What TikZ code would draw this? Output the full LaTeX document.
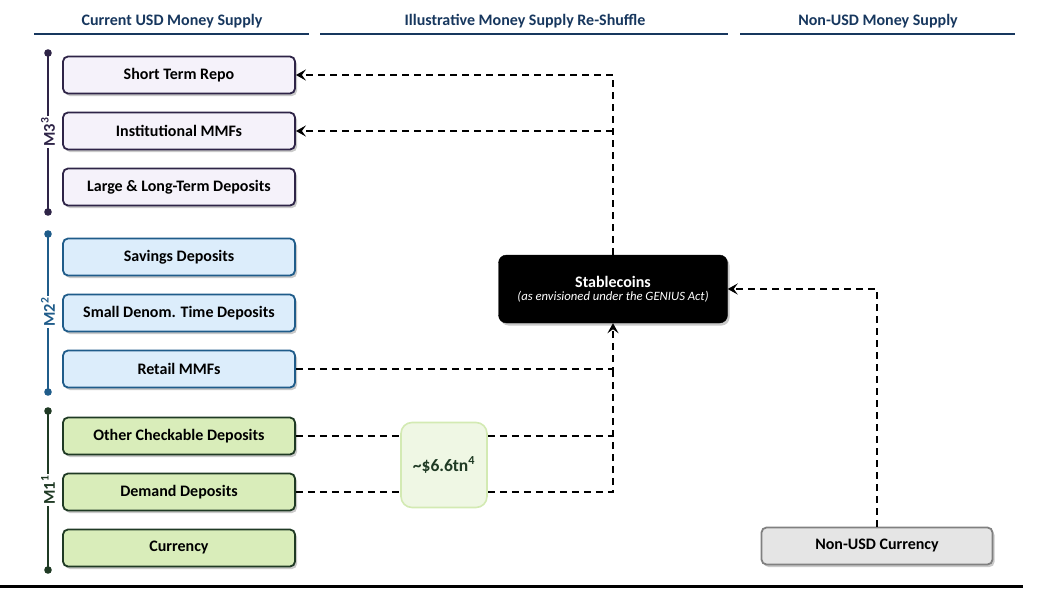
\documentclass[tikz,border=0pt]{standalone}
\usepackage{fontspec}
\setmainfont{Carlito}
\usetikzlibrary{arrows.meta,shadows}
\definecolor{navy}{HTML}{17375E}
\definecolor{mthreeline}{HTML}{2E2447}
\definecolor{mthreefill}{HTML}{F5F2FA}
\definecolor{mtwoline}{HTML}{1F5C8A}
\definecolor{mtwofill}{HTML}{DCEDFB}
\definecolor{moneline}{HTML}{1F3A24}
\definecolor{monefill}{HTML}{D9EDBA}
\definecolor{tnfill}{HTML}{EFF7E4}
\definecolor{tnline}{HTML}{D3EAB3}
\definecolor{greyfill}{HTML}{E5E5E5}
\definecolor{greyline}{HTML}{808080}
\begin{document}
\begin{tikzpicture}[x=1pt,y=-1pt,
  basebox/.style={draw, rounded corners=5pt, line width=1.8pt, minimum width=232pt, minimum height=37pt,
    font=\bfseries\fontsize{16}{18}\selectfont, inner sep=0pt,
    drop shadow={shadow xshift=2pt, shadow yshift=-2.5pt, opacity=0.35, fill=black!60}},
  mthreebox/.style={basebox, draw=mthreeline, fill=mthreefill},
  mtwobox/.style={basebox, draw=mtwoline, fill=mtwofill},
  monebox/.style={basebox, draw=moneline, fill=monefill},
  greybox/.style={basebox, draw=greyline, fill=greyfill, minimum width=231pt},
  header/.style={font=\bfseries\fontsize{16}{18}\selectfont, text=navy},
  headline/.style={draw=navy, line width=2.4pt},
  conn/.style={draw=black, line width=1.8pt, dash pattern=on 7pt off 5pt},
  tip/.style={-{Stealth[length=10pt,width=11pt,inset=4pt]}},
  brack/.style={line width=1.6pt},
  mlabel/.style={rotate=90, fill=white, inner sep=1.5pt, font=\bfseries\fontsize{16.5}{18}\selectfont}
]
\useasboundingbox (0,0) rectangle (1039,594);

% headers
\node[header] (h1) at (172,21) {Current USD Money Supply};
\node[header] (h2) at (525,21) {Illustrative Money Supply Re-Shuffle};
\node[header] (h3) at (878,21) {Non-USD Money Supply};
\draw[headline] (34,34) -- (309,34);
\draw[headline] (320,34) -- (728,34);
\draw[headline] (740,34) -- (1015,34);

% M3
\node[mthreebox] (repo) at (179,75) {Short Term Repo};
\node[mthreebox] (inst) at (179,131) {Institutional MMFs};
\node[mthreebox] (large) at (179,187) {Large \& Long-Term Deposits};
% M2
\node[mtwobox] (sav) at (179,257) {Savings Deposits};
\node[mtwobox] (small) at (179,313) {Small Denom. Time Deposits};
\node[mtwobox] (retail) at (179,369) {Retail MMFs};
% M1
\node[monebox] (other) at (179,436) {Other Checkable Deposits};
\node[monebox] (demand) at (179,492) {Demand Deposits};
\node[monebox] (curr) at (179,548) {Currency};

% brackets
\draw[brack, mthreeline] (48,53) -- (48,212);
\fill[mthreeline] (48,53) circle (3.8pt) (48,212) circle (3.8pt);
\node[mlabel, text=mthreeline] (lthree) at (48,132) {M3\textsuperscript{3}};
\draw[brack, mtwoline] (48,234) -- (48,392);
\fill[mtwoline] (48,234) circle (3.8pt) (48,392) circle (3.8pt);
\node[mlabel, text=mtwoline] (ltwo) at (48,312) {M2\textsuperscript{2}};
\draw[brack, moneline] (48,411) -- (48,570);
\fill[moneline] (48,411) circle (3.8pt) (48,570) circle (3.8pt);
\node[mlabel, text=moneline] (lone) at (48,490) {M1\textsuperscript{1}};

% stablecoins
\node[draw=black, fill=black, rounded corners=8pt, minimum width=229pt, minimum height=68pt,
  text=white, align=center, inner sep=0pt,
  drop shadow={shadow xshift=2pt, shadow yshift=-2.5pt, opacity=0.35, fill=black!60}] (stable) at (613,289)
  {{\bfseries\fontsize{16}{18}\selectfont Stablecoins}\\[1pt]{\itshape\fontsize{12.7}{14}\selectfont (as envisioned under the GENIUS Act)}};

% non-USD
\node[greybox] (nonusd) at (877,546) {Non-USD Currency};

% connectors
\draw[conn, tip] (stable.north) |- (repo.east);
\draw[conn, tip] (stable.north |- inst.east) -- (inst.east);
\draw[conn] (demand.east) -| (stable.south |- retail.east);
\draw[conn] (other.east) -- (stable.south |- other.east);
\draw[conn, tip] (retail.east) -| (stable.south);
\draw[conn, tip] (nonusd.north) |- (stable.east);

% total
\node[draw=tnline, fill=tnfill, line width=1.6pt, rounded corners=11pt, minimum width=86pt, minimum height=85pt,
  inner sep=0pt, text=moneline, font=\bfseries\fontsize{17.5}{20}\selectfont] (total) at (444,465)
  {\textasciitilde\$6.6tn\textsuperscript{4}};

% bottom rule
\draw[line width=3pt] (0,586) -- (1023,586);
\end{tikzpicture}
\end{document}
